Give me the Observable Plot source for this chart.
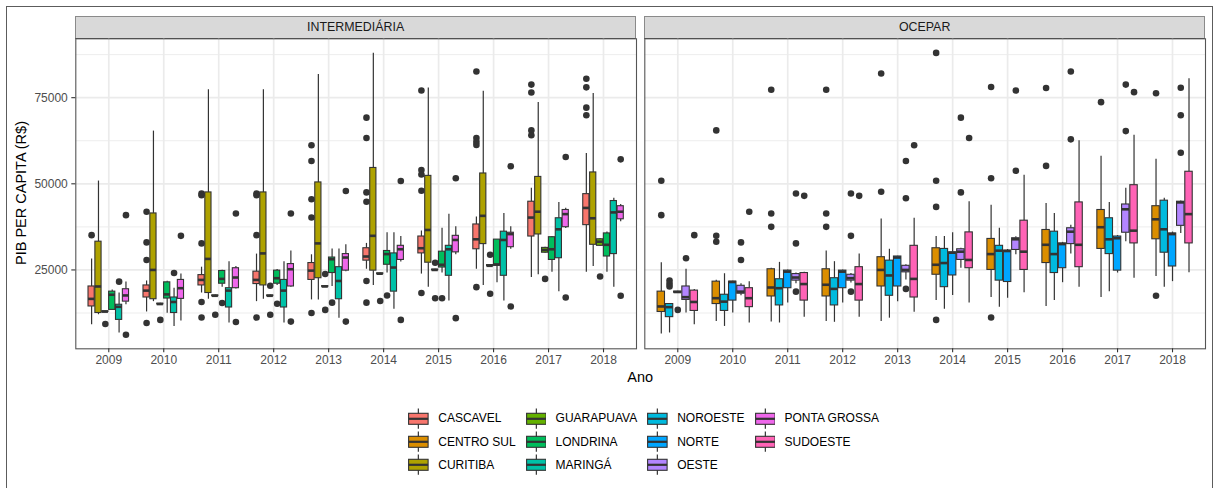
<!DOCTYPE html>
<html>
<head>
<meta charset="utf-8">
<script src="https://cdn.jsdelivr.net/npm/d3@7"></script>
<script src="https://cdn.jsdelivr.net/npm/@observablehq/plot@0.6"></script>
<style>
  html, body { margin: 0; padding: 0; background: #fff; }
  body { font-family: "Liberation Sans", Arial, Helvetica, sans-serif; }
  #wrap { position: relative; width: 1214px; height: 488px; overflow: hidden; background: #fff; }
  .strip { position: absolute; box-sizing: border-box; background: #D9D9D9; border: 1px solid #8a8a8a; border-bottom: 1.5px solid #444;
           font-size: 12.4px; color: #1A1A1A; text-align: center; }
  .legend { position: absolute; display: grid; grid-auto-flow: column; grid-template-rows: repeat(3, 23.3px); column-gap: 10px; }
  .item { display: flex; align-items: center; height: 23.3px; font-size: 12px; color: #000; white-space: nowrap; }
  .item svg { flex: none; margin-right: 9.3px; }
</style>
</head>
<body>
<div id="wrap"></div>
<script>
// ---------------- DATA ----------------
const panels = ["INTERMEDIÁRIA", "OCEPAR"];
const years = ["2009", "2010", "2011", "2012", "2013", "2014", "2015", "2016", "2017", "2018"];
const regions = ["CASCAVEL", "CENTRO SUL", "CURITIBA", "GUARAPUAVA", "LONDRINA", "MARINGÁ",
                 "NOROESTE", "NORTE", "OESTE", "PONTA GROSSA", "SUDOESTE"];
const regionColors = ["#F8766D", "#DB8E00", "#AEA200", "#64B200", "#00BD5C", "#00C1A7",
                      "#00BADE", "#00A6FF", "#B385FF", "#EF67EB", "#FF63B6"];
const intermediariaRegions = ["CASCAVEL", "CURITIBA", "GUARAPUAVA", "LONDRINA", "MARINGÁ", "PONTA GROSSA"];
const oceparRegions = ["CENTRO SUL", "NOROESTE", "NORTE", "OESTE", "SUDOESTE"];
const yTicks = [25000, 50000, 75000];
const yMinorTicks = [12500, 37500, 62500, 87500];

// each row: [lower whisker, Q1, median, Q3, upper whisker], one row per year 2009..2018
const CASCAVEL = [
  [9100, 14400, 16600, 20200, 28200], [12800, 17000, 19000, 20500, 21800], [18300, 20500, 22100, 23500, 25800],
  [15800, 20900, 22100, 24500, 29600], [16300, 22100, 24800, 27000, 29400], [25200, 27700, 28900, 31300, 32700],
  [23800, 29800, 31300, 34700, 36300], [25200, 31000, 33900, 38200, 40400], [22800, 34700, 40200, 44800, 48700],
  [24300, 38000, 43000, 47000, 58800]];
const CASCAVEL_OUT = [[35100], [41900, 33000, 27900, 9600], [47200, 46700, 32700, 15700, 11200], [47200, 46700, 35100, 11200],
  [61200, 56600, 45500, 40200, 12500], [69200, 63300, 47500, 44800, 21800, 15500], [77100, 54000, 52700, 48000, 18300],
  [82600, 63300, 62200, 61300, 20000], [78800, 76500, 65500, 64100], [80500, 78000, 72100, 69900]];

const CURITIBA = [
  [12000, 12500, 20200, 33200, 50800], [15800, 16500, 25000, 41400, 65300], [16500, 18300, 28200, 47500, 77300],
  [16500, 20500, 29800, 47500, 77300], [16300, 22600, 32700, 50400, 81700], [20500, 24800, 34900, 54600, 87900],
  [20000, 27100, 36600, 52300, 77800], [20500, 32500, 40700, 53000, 76900], [23600, 35300, 41900, 52000, 73600],
  [26000, 32300, 40000, 53300, 76200]];
const CURITIBA_OUT = [[], [], [], [], [], [], [], [], [], []];

const GUARAPUAVA = [
  [12700, 12800, 12900, 13000, 13100], [14900, 15000, 15100, 15200, 15300], [17300, 17400, 17500, 17600, 17700],
  [17300, 17400, 17500, 17600, 17700], [20000, 20100, 20200, 20300, 20400], [23700, 23800, 23900, 24000, 24100],
  [24800, 24900, 25000, 25100, 25200], [26000, 26100, 26200, 26400, 26500], [29800, 30000, 30800, 31400, 31600],
  [31800, 32000, 33200, 33900, 34100]];
const GUARAPUAVA_OUT = [[9300], [10500], [12000], [20400, 12000], [23800, 13400], [16000], [27100, 16800], [29400, 18100], [22400], [23100]];

const LONDRINA = [
  [13300, 13400, 17800, 18700, 19200], [12400, 16700, 17900, 21400, 21700], [20000, 21000, 22400, 24700, 24900],
  [20500, 21000, 22600, 24800, 25100], [20200, 24100, 28100, 28600, 31100], [24100, 26500, 29600, 30500, 35800],
  [24100, 25700, 26500, 30300, 37100], [21300, 26200, 26600, 33800, 33800], [24300, 27900, 31000, 34500, 34700],
  [24300, 28900, 32300, 35600, 36000]];
const LONDRINA_OUT = [[], [], [15400], [15200], [15500], [17600], [16800], [], [], []];

const MARINGA = [
  [6700, 10500, 14300, 14900, 18300], [8600, 12500, 15700, 17000, 19700], [9600, 14100, 19000, 19700, 27400],
  [9600, 14100, 19000, 22100, 27400], [11000, 16500, 21800, 25800, 31100], [13600, 18700, 25700, 29800, 35800],
  [16000, 23300, 31000, 32000, 41200], [16000, 23300, 33700, 36100, 41400], [18700, 28400, 36800, 40000, 44600],
  [20000, 29600, 41700, 45000, 45800]];
const MARINGA_OUT = [[21600], [24100], [], [], [], [], [], [], [], []];

const PONTA_GROSSA = [
  [14900, 15800, 17600, 19400, 21500], [10200, 16600, 19700, 22100, 23800], [19500, 19700, 22800, 25500, 26000],
  [20000, 20200, 25200, 26700, 30500], [24500, 24800, 28600, 29600, 32300], [27300, 27900, 31000, 32000, 34700],
  [29400, 30100, 33700, 34900, 37500], [31000, 31600, 35400, 35800, 37500], [37000, 37400, 41200, 42400, 42900],
  [39000, 39700, 41900, 43500, 44000]];
const PONTA_GROSSA_OUT = [[40900, 6200], [34900], [41400, 9900], [41400, 10000], [47900, 10000], [50800, 10500],
  [51600, 11000], [55100, 14400], [57800, 17000], [57100, 17500]];

const CENTRO_SUL = [
  [6400, 12800, 14400, 18700, 27100], [10000, 15100, 16800, 21600, 22000], [9900, 17300, 19900, 25200, 25500],
  [10000, 17300, 20700, 25200, 30500], [10000, 20200, 25000, 28700, 39800], [16100, 23600, 26500, 31300, 34700],
  [17000, 25000, 29600, 34000, 43800], [14400, 27000, 32300, 36600, 44300], [17000, 31100, 37400, 42400, 58000],
  [23100, 33900, 39700, 43500, 57100]];
const CENTRO_SUL_OUT = [[50900, 40900], [65500, 34900, 33200], [77300, 41400, 37500], [77300, 41400, 37500], [82000, 47700],
  [88000, 50900, 43300, 10500], [78100, 51600, 11200], [77800, 55200], [73700], [76300, 17500]];

const NOROESTE = [
  [6700, 11300, 14200, 15100, 15200], [8600, 13100, 15800, 17800, 23900], [9600, 14700, 19700, 22300, 27200],
  [9800, 14700, 19500, 22600, 27400], [11000, 17500, 23400, 27700, 31000], [13600, 20000, 27000, 31100, 34700],
  [14200, 21900, 30600, 32000, 37100], [16100, 24100, 29600, 36100, 41400], [18700, 29600, 33900, 40000, 44600],
  [20000, 30000, 36800, 45100, 45800]];
const NOROESTE_OUT = [[21900, 21000, 20200], [], [], [], [], [], [], [], [], []];

const NORTE = [
  [18300, 18400, 18600, 18700, 18800], [12500, 16100, 21500, 21600, 21700], [15400, 19700, 24500, 24800, 25000],
  [15400, 19700, 24500, 24800, 25000], [15800, 20200, 28600, 28900, 29000], [17600, 23400, 30000, 30100, 35800],
  [16800, 21500, 30500, 30600, 30900], [21300, 25500, 32500, 32700, 33000], [24100, 24800, 34200, 34700, 35000],
  [21600, 26000, 35400, 35600, 36000]];
const NORTE_OUT = [[13400], [], [], [], [], [], [], [], [], []];

const OESTE = [
  [12500, 16300, 17100, 20200, 25200], [17500, 18100, 18700, 20400, 21000], [21000, 21900, 22800, 23800, 24100],
  [21200, 21900, 22600, 23600, 24000], [22100, 24300, 25000, 26200, 26500], [25500, 27900, 30300, 31000, 31300],
  [29400, 30800, 33900, 34200, 34600], [29600, 32500, 36100, 37100, 38000], [33200, 35800, 42600, 44000, 48700],
  [35600, 37800, 44600, 44800, 45000]];
const OESTE_OUT = [[28400], [33000, 27900], [47200, 32700, 18700], [47200, 34900, 18700], [56600, 45800, 19500],
  [69200, 47500], [77100, 53800], [82600, 62900], [78800, 65300], [77900, 69900, 59000]];

const SUDOESTE = [
  [9100, 13100, 15700, 19000, 19300], [9600, 14200, 16800, 19700, 21600], [11300, 16100, 20900, 24100, 24300],
  [11300, 16100, 20900, 25800, 29600], [12700, 17000, 22400, 32000, 40000], [15400, 25500, 27900, 35900, 44800],
  [18400, 25000, 30300, 39300, 52500], [20000, 25800, 32300, 44600, 62500], [22600, 32700, 36400, 49600, 64100],
  [24200, 32700, 41200, 53500, 80500]];
const SUDOESTE_OUT = [[35100], [41900], [46500], [46500], [61200], [63300], [], [], [76600], []];

// ---------------- BUILD TABLES (ggplot-like dodge) ----------------
const boxes = [];
const outliers = [];
function addPanel(panel, regs, statsList, outList) {
  const n = regs.length, slot = 0.75 / n, half = slot * 0.9 / 2;
  regs.forEach((region, i) => {
    const off = (i - (n - 1) / 2) * slot;
    statsList[i].forEach((s, k) => {
      const xc = k + 1 + off;
      boxes.push({panel, region, year: years[k], xc, x1: xc - half, x2: xc + half,
                  wl: s[0], q1: s[1], med: s[2], q3: s[3], wh: s[4]});
      outList[i][k].forEach(v => outliers.push({panel, region, year: years[k], xc, value: v}));
    });
  });
}
addPanel(panels[0], intermediariaRegions,
  [CASCAVEL, CURITIBA, GUARAPUAVA, LONDRINA, MARINGA, PONTA_GROSSA],
  [CASCAVEL_OUT, CURITIBA_OUT, GUARAPUAVA_OUT, LONDRINA_OUT, MARINGA_OUT, PONTA_GROSSA_OUT]);
addPanel(panels[1], oceparRegions,
  [CENTRO_SUL, NOROESTE, NORTE, OESTE, SUDOESTE],
  [CENTRO_SUL_OUT, NOROESTE_OUT, NORTE_OUT, OESTE_OUT, SUDOESTE_OUT]);

// ---------------- LAYOUT ----------------
const FONT = '"Liberation Sans", Arial, Helvetica, sans-serif';
const W = 1214, H = 392;
const mL = 75.3, mR = 9, mT = 38.3, panelBottom = 348.3, gap = 8.3;
const facetW = (W - mL - mR - gap) / 2;
const padInner = gap / (facetW + gap);

const allVals = [...boxes.flatMap(d => [d.wl, d.wh]), ...outliers.map(d => d.value)];
const [vmin, vmax] = d3.extent(allVals);
const ex = (vmax - vmin) * 0.05;
const xPositions = d3.range(1, years.length + 1);

const chart = Plot.plot({
  width: W, height: H,
  marginLeft: mL, marginRight: mR, marginTop: mT, marginBottom: H - panelBottom,
  style: {fontFamily: FONT, fontSize: "12px", background: "transparent", overflow: "visible"},
  fx: {domain: panels, paddingInner: padInner, paddingOuter: 0, round: false, axis: null, label: null},
  x: {domain: [0.4, years.length + 0.6], axis: null, round: false},
  y: {domain: [vmin - ex, vmax + ex], axis: null},
  color: {domain: regions, range: regionColors},
  marks: [
    Plot.gridY(yMinorTicks, {stroke: "#EBEBEB", strokeOpacity: 1, strokeWidth: 0.9}),
    Plot.gridY(yTicks, {stroke: "#EBEBEB", strokeOpacity: 1, strokeWidth: 1.7}),
    Plot.gridX(xPositions, {stroke: "#EBEBEB", strokeOpacity: 1, strokeWidth: 1.7}),
    Plot.ruleX(boxes, {fx: "panel", x: "xc", y1: "wl", y2: "q1", stroke: "#333333", strokeWidth: 1.2}),
    Plot.ruleX(boxes, {fx: "panel", x: "xc", y1: "q3", y2: "wh", stroke: "#333333", strokeWidth: 1.2}),
    Plot.rect(boxes, {fx: "panel", x1: "x1", x2: "x2", y1: "q1", y2: "q3", fill: "region", stroke: "#333333", strokeWidth: 1.1}),
    Plot.ruleY(boxes, {fx: "panel", x1: "x1", x2: "x2", y: "med", stroke: "#333333", strokeWidth: 2.6}),
    Plot.dot(outliers, {fx: "panel", x: "xc", y: "value", r: 3.3, fill: "#333333", stroke: "none"}),
    Plot.frame({stroke: "#555555", strokeWidth: 1.1}),
    Plot.axisY(yTicks, {facetAnchor: "left", tickSize: 4, tickPadding: 4, stroke: "#333333", strokeWidth: 1.1,
                        color: "#4D4D4D", fontSize: 12, label: null, tickFormat: d => String(d)}),
    Plot.axisX(xPositions, {facetAnchor: "bottom", tickSize: 4, tickPadding: 3, stroke: "#333333", strokeWidth: 1.1,
                            color: "#4D4D4D", fontSize: 12, label: null, tickFormat: d => years[d - 1]})
  ]
});

// ---------------- ASSEMBLE PAGE ----------------
const wrap = document.getElementById("wrap");

const border = document.createElement("div");
Object.assign(border.style, {position: "absolute", left: "5.8px", top: "5.8px", width: "1207.5px", height: "520px",
  boxSizing: "border-box", border: "1.8px solid #5c5c5c"});
wrap.appendChild(border);

panels.forEach((p, i) => {
  const s = document.createElement("div");
  s.className = "strip";
  Object.assign(s.style, {left: (mL + i * (facetW + gap)) + "px", top: "15.7px", width: facetW + "px",
    height: "23.1px", lineHeight: "21.5px"});
  s.textContent = p;
  wrap.appendChild(s);
});

chart.style.position = "absolute";
chart.style.left = "0px";
chart.style.top = "0px";
wrap.appendChild(chart);

const ytitle = document.createElement("div");
Object.assign(ytitle.style, {position: "absolute", left: "21px", top: "193px", transform: "translate(-50%,-50%) rotate(-90deg)",
  whiteSpace: "nowrap", fontSize: "14.5px", color: "#000"});
ytitle.textContent = "PIB PER CAPITA (R$)";
wrap.appendChild(ytitle);

const xtitle = document.createElement("div");
Object.assign(xtitle.style, {position: "absolute", left: ((mL + W - mR) / 2) + "px", top: "376.5px",
  transform: "translate(-50%,-50%)", whiteSpace: "nowrap", fontSize: "14.5px", color: "#000"});
xtitle.textContent = "Ano";
wrap.appendChild(xtitle);

// legend (column-major, like ggplot)
const legend = document.createElement("div");
legend.className = "legend";
Object.assign(legend.style, {left: "408.3px", top: "406.7px"});
regions.forEach((r, i) => {
  const item = document.createElement("div");
  item.className = "item";
  const svg = d3.create("svg").attr("width", 20.7).attr("height", 23.3);
  svg.append("line").attr("x1", 10.35).attr("x2", 10.35).attr("y1", 1.6).attr("y2", 21.7)
    .attr("stroke", "#333").attr("stroke-width", 1.2);
  svg.append("rect").attr("x", 0.6).attr("y", 6.3).attr("width", 19.5).attr("height", 11)
    .attr("fill", regionColors[i]).attr("stroke", "#333").attr("stroke-width", 1.1);
  svg.append("line").attr("x1", 0.6).attr("x2", 20.1).attr("y1", 11.8).attr("y2", 11.8)
    .attr("stroke", "#333").attr("stroke-width", 2.2);
  item.appendChild(svg.node());
  const t = document.createElement("span");
  t.textContent = r;
  item.appendChild(t);
  legend.appendChild(item);
});
wrap.appendChild(legend);
</script>
</body>
</html>
